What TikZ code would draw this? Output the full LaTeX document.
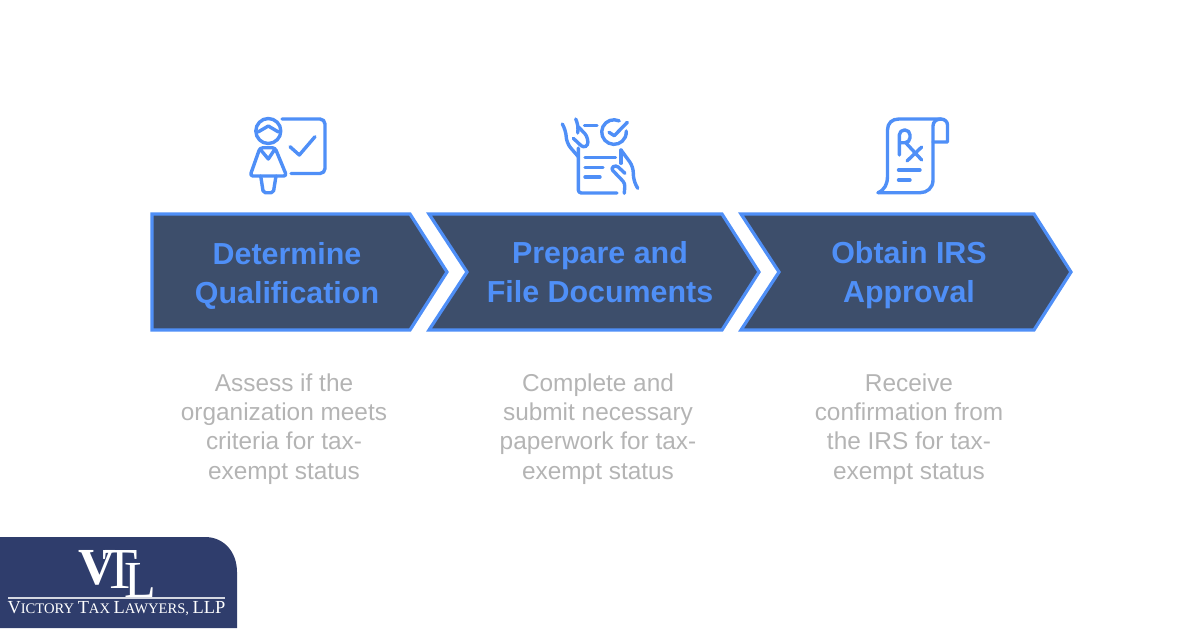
\documentclass[tikz,border=0pt]{standalone}
\usepackage{fontspec}
\setmainfont{Liberation Sans}
\newfontfamily\logofont{Liberation Serif}
\definecolor{arrowblue}{HTML}{4F8FF7}
\definecolor{arrowfill}{HTML}{3D4E6B}
\definecolor{bodygrey}{HTML}{B4B4B4}
\definecolor{logonavy}{HTML}{2F3D6C}
\tikzset{
  stepshape/.style={draw=arrowblue, fill=arrowfill, line width=1.6pt, line join=miter},
  steptitle/.style={text=arrowblue, align=center, font=\fontsize{15.2}{19.5}\selectfont\bfseries},
  stepbody/.style={text=bodygrey, align=center, font=\fontsize{12.2}{14.6}\selectfont},
  iconline/.style={draw=arrowblue, line width=1.7pt, line cap=round, line join=round}
}
\begin{document}
\begin{tikzpicture}[x=0.5pt, y=-0.5pt]
            \useasboundingbox (0,0) rectangle (1200,628);
            % arrows
            \draw[stepshape] (152,214) -- (410,214) -- (447,272) -- (410,330) -- (152,330) -- cycle;
            \draw[stepshape] (429,214) -- (722,214) -- (759,272) -- (722,330) -- (429,330) -- (467,272) -- cycle;
            \draw[stepshape] (741,214) -- (1034,214) -- (1071,272) -- (1034,330) -- (741,330) -- (779,272) -- cycle;
            % titles
            \node[steptitle] (title1) at (287,275.5) {Determine\\Qualification};
            \node[steptitle] (title2) at (600,272) {Prepare and\\File Documents};
            \node[steptitle] (title3) at (909,275.5) {Obtain IRS\\Approval};
            % texts
            \node[stepbody] (body1) at (284,429) {Assess if the\\organization meets\\criteria for tax-\\exempt status};
            \node[stepbody] (body2) at (598,429) {Complete and\\submit necessary\\paperwork for tax-\\exempt status};
            \node[stepbody] (body3) at (909,429) {Receive\\confirmation from\\the IRS for tax-\\exempt status};
            % teacher icon
            \draw[iconline] (268.3,131) circle[radius=12.5];
            \draw[iconline] (258,132) -- (268.3,126) -- (278.5,132);
            \draw[iconline, rounded corners=2.5pt] (282,119) -- (325,119) -- (325,173.5) -- (291,173.5);
            \draw[iconline] (290,146.7) -- (299.3,155) -- (315,136.7);
            \draw[iconline, rounded corners=1.5pt] (260,147.7) -- (275,147.7) -- (286.7,176) -- (250,176) -- cycle;
            \draw[iconline, rounded corners=1pt] (260.7,176) -- (263.3,192.7) -- (273.3,192.7) -- (276,176);
            \draw[iconline] (260,149) -- (268.3,159) -- (275,149);
            % paperwork icon
            \draw[iconline, rounded corners=3pt] (562.3,124) -- (565.7,130) -- (566.7,143.3) -- (578.3,156.7);
            \draw[iconline, rounded corners=2pt] (575.7,119) -- (578.3,125.7) -- (577.7,133);
            \draw[iconline, rounded corners=1.5pt] (573.3,138.3) -- (583.3,147.7) -- (588.3,145) -- (587,136) -- (578.3,126.7);
            \draw[iconline, rounded corners=1.5pt] (578.3,148) -- (578.3,193) -- (617,193);
            \draw[iconline] (584.5,125.7) -- (597,125.7);
            \draw[iconline] (619.2,120.9) arc[start angle=-65, end angle=-365, radius=12.3];
            \draw[iconline] (609,132.3) -- (614.3,135.7) -- (627.3,122.3);
            \draw[iconline] (585,157.5) -- (615.5,157.5);
            \draw[iconline] (585,167.5) -- (603,167.5);
            \draw[iconline] (585,177) -- (600,177);
            \draw[iconline, rounded corners=3pt] (621,150) -- (633.3,166.7) -- (633.3,180) -- (637.7,188.3);
            \draw[iconline] (621,150) -- (621,163.3);
            \draw[iconline, rounded corners=1.5pt] (625,173.3) -- (616,165) -- (610.7,168.3) -- (625,183.3) -- (624.3,193.3);
            % prescription icon
            \draw[iconline] (878,192.7) .. controls (885,190) and (887.5,183) .. (887.5,177) -- (887.5,130) .. controls (887.5,123) and (892,119) .. (899,119) -- (941,119) .. controls (945,119) and (947.5,122) .. (947.5,125) -- (947.5,142) -- (933,142);
            \draw[iconline] (941,119) .. controls (936,119) and (933,122) .. (933,126) -- (933,180) .. controls (933,188) and (927,192.7) .. (920,192.7) -- (878,192.7);
            \draw[iconline, rounded corners=2.5pt] (899.3,155) -- (899.3,130) -- (910,130) -- (910,142.7) -- (899.3,142.7);
            \draw[iconline] (906,143) -- (921.7,160);
            \draw[iconline] (921.7,147) -- (907,161);
            \draw[iconline] (898.5,170) -- (920,170);
            \draw[iconline] (898.5,180) -- (910,180);
            % logo
            \fill[logonavy] (0,628) -- (0,537) -- (205,537) .. controls (224,537) and (237,552) .. (237,572) -- (237,628) -- cycle;
            \node[text=white, font=\logofont\bfseries\fontsize{26}{26}\selectfont, inner sep=0pt] (logoV) at (97,567.5) {V};
            \node[text=white, font=\logofont\fontsize{29}{29}\selectfont, inner sep=0pt] (logoT) at (120,569.5) {T};
            \node[text=white, font=\logofont\fontsize{26}{26}\selectfont, inner sep=0pt] (logoL) at (140.5,580) {L};
            \draw[white!80!logonavy, line width=0.7pt] (8,598) -- (225,598);
            \node[text=white, inner sep=0pt, font=\logofont\fontsize{7.3}{9}\selectfont] (logotext) at (116.5,608.5) {{\fontsize{9.2}{9}\selectfont V}ICTORY {\fontsize{9.2}{9}\selectfont T}AX {\fontsize{9.2}{9}\selectfont L}AWYERS, {\fontsize{9.2}{9}\selectfont LLP}};
\end{tikzpicture}
\end{document}
